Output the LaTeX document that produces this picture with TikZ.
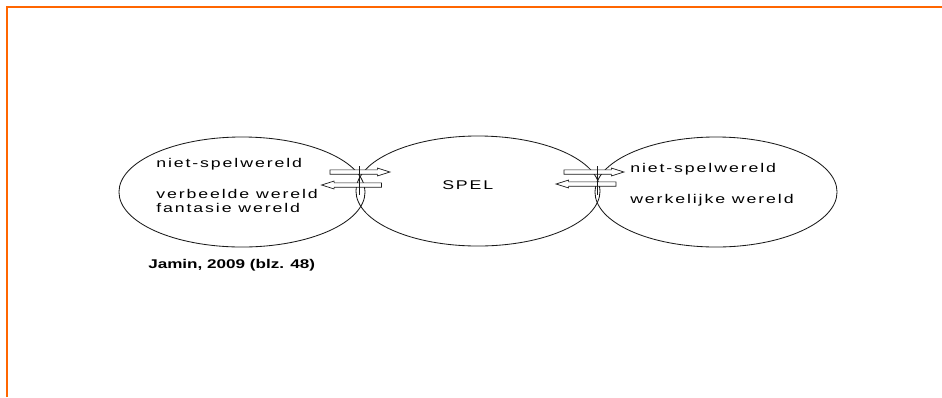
\documentclass[tikz,border=0pt]{standalone}
\usepackage{fontspec}
\usepackage{xcolor}
\usepackage{tikz}
\usetikzlibrary{positioning,shapes.geometric,shapes.arrows}
\definecolor{frame}{HTML}{FF6600}
\definecolor{ink}{HTML}{1A1A1A}
\newfontfamily\wereldfont[FakeStretch=1.4,LetterSpace=15]{Liberation Sans}
\newfontfamily\bronfont[FakeStretch=1.35]{Liberation Sans Bold}

\begin{document}
\begin{tikzpicture}[x=0.025cm,y=-0.025cm,
    wereld/.style={ellipse, draw=ink, line width=0.6pt, inner sep=0pt},
    label/.style={anchor=base west, inner sep=0pt, font=\wereldfont\fontsize{9}{10}\selectfont},
    pijl/.style={single arrow, draw=ink, line width=0.5pt, fill=white,
      inner xsep=0pt, inner ysep=0.045cm, minimum width=0pt,
      minimum height=1.5cm,
      single arrow head extend=0.045cm, single arrow tip angle=35}]
  % frame
  \useasboundingbox (0,0) rectangle (942,397);
  \draw[frame, line width=1.5pt] (7,397) -- (7,7) -- (942,7);

  % three worlds
  \node[wereld, minimum width=6.15cm, minimum height=2.75cm] (links) at (242,192) {};
  \node[wereld, minimum width=6.1cm, minimum height=2.75cm] (spel) at (478,191) {};
  \node[wereld, minimum width=6.05cm, minimum height=2.75cm] (rechts) at (716,192) {};

  % texts
  \node[label] (links1) at (156,167) {niet-spelwereld};
  \node[label] (links2) at (156,198) {verbeelde wereld};
  \node[label] (links3) at (156,212) {fantasie wereld};
  \node[label] (spelnaam) at (442,189) {SPEL};
  \node[label] (rechts1) at (630,172) {niet-spelwereld};
  \node[label] (rechts2) at (630,203) {werkelijke wereld};
  \node[anchor=base west, inner sep=0pt, font=\bronfont\fontsize{9}{10}\selectfont] (bron) at (148,268) {Jamin, 2009 (blz. 48)};

  % arrows in and out of play
  \node[pijl] (inL) at (356.5,172) {};
  \node[pijl, shape border rotate=180] (uitL) at (355,185) {};
  \node[pijl] (uitR) at (590.5,172) {};
  \node[pijl, shape border rotate=180] (inR) at (589.5,184) {};

  % crossings between the worlds
  \coordinate (grensL1) at (359,166);
  \coordinate (grensL2) at (359,195);
  \coordinate (grensR1) at (597,166);
  \coordinate (grensR2) at (597,195);
  \draw[ink, line width=0.6pt] (grensL1) -- (grensL2);
  \draw[ink, line width=0.6pt] (grensR1) -- (grensR2);
\end{tikzpicture}
\end{document}
